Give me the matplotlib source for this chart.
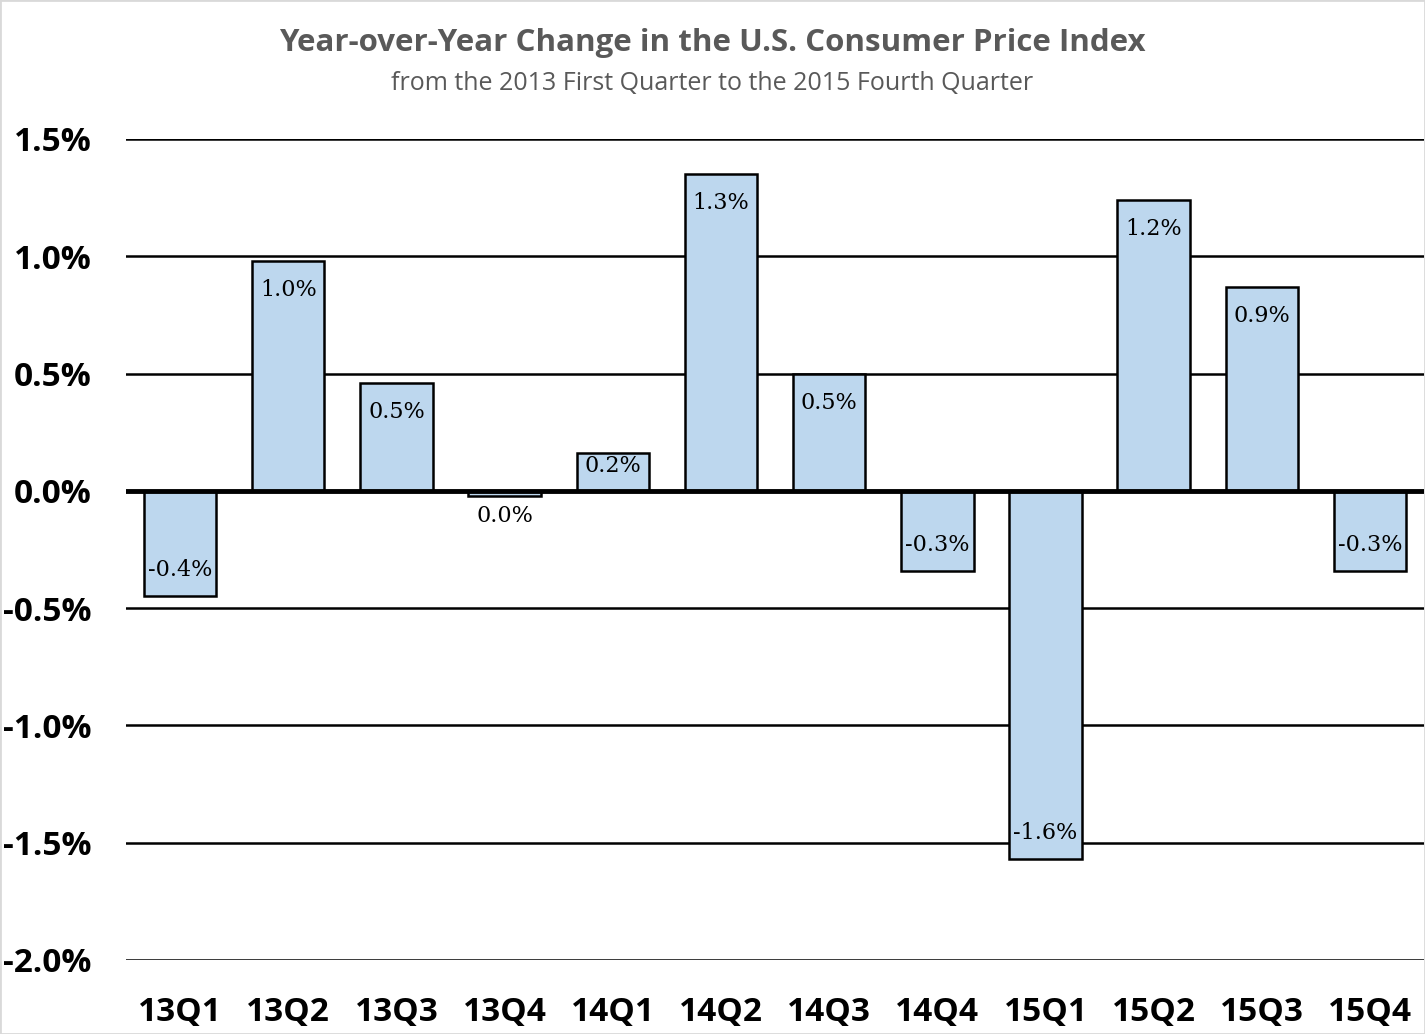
import matplotlib
matplotlib.use("Agg")
import matplotlib.pyplot as plt
from matplotlib.patches import Rectangle
from matplotlib.ticker import FuncFormatter

# quarters and year-over-year CPI change (%)
quarters = ["13Q1", "13Q2", "13Q3", "13Q4", "14Q1", "14Q2",
            "14Q3", "14Q4", "15Q1", "15Q2", "15Q3", "15Q4"]
cpi_change = [-0.45, 0.98, 0.46, -0.02, 0.16, 1.35,
              0.50, -0.34, -1.57, 1.24, 0.87, -0.34]
bar_labels = ["-0.4%", "1.0%", "0.5%", "0.0%", "0.2%", "1.3%",
              "0.5%", "-0.3%", "-1.6%", "1.2%", "0.9%", "-0.3%"]
yticks = [-2.0, -1.5, -1.0, -0.5, 0.0, 0.5, 1.0, 1.5]

sans = ["Open Sans", "DejaVu Sans"]
serif = ["DejaVu Serif"]

fig = plt.figure(figsize=(14.25, 10.34), dpi=100)
ax = fig.add_axes([0.0884, 0.0716, 0.911, 0.794])

x = range(len(quarters))
ax.bar(x, cpi_change, width=0.67, color="#BDD7EE", edgecolor="black",
       linewidth=1.8, zorder=3)

ax.set_xlim(-0.5, len(quarters) - 0.5)
ax.set_ylim(-2.0, 1.5)
ax.set_yticks(yticks)
ax.yaxis.set_major_formatter(FuncFormatter(lambda v, p: f"{v:.1f}%"))
ax.set_xticks(list(x))
ax.set_xticklabels(quarters)
ax.grid(axis="y", color="black", linewidth=1.8, zorder=0)
ax.axhline(0, color="black", linewidth=3.5, zorder=4)
ax.tick_params(length=0, labelsize=24)
ax.tick_params(axis="y", pad=25)
ax.tick_params(axis="x", pad=26)
for lab in ax.get_xticklabels() + ax.get_yticklabels():
    lab.set_family(sans)
    lab.set_fontweight("bold")
for s in ax.spines.values():
    s.set_visible(False)

# data labels, inside the bar end
px_per_unit = (ax.transData.transform((0, 1))[1] - ax.transData.transform((0, 0))[1])
for i, (v, lab) in enumerate(zip(cpi_change, bar_labels)):
    bar_px = abs(v) * px_per_unit
    if v >= 0:
        off = -min(29, bar_px - 25)
    else:
        off = min(26, bar_px - 25)
    ax.annotate(lab, (i, v), xytext=(0, off), textcoords="offset pixels",
                ha="center", va="center", fontsize=16, family=serif,
                color="black", zorder=5)

fig.text(0.5, 0.958, "Year-over-Year Change in the U.S. Consumer Price Index",
         ha="center", va="center", fontsize=22.5, fontweight="bold",
         color="#595959", family=sans)
fig.text(0.5, 0.919, "from the 2013 First Quarter to the 2015 Fourth Quarter",
         ha="center", va="center", fontsize=18, color="#595959", family=sans)

fig.patches.append(Rectangle((0, 0), 1, 1, transform=fig.transFigure,
                             fill=False, edgecolor="#D9D9D9", linewidth=2))

fig.savefig("out.png", dpi=100)
